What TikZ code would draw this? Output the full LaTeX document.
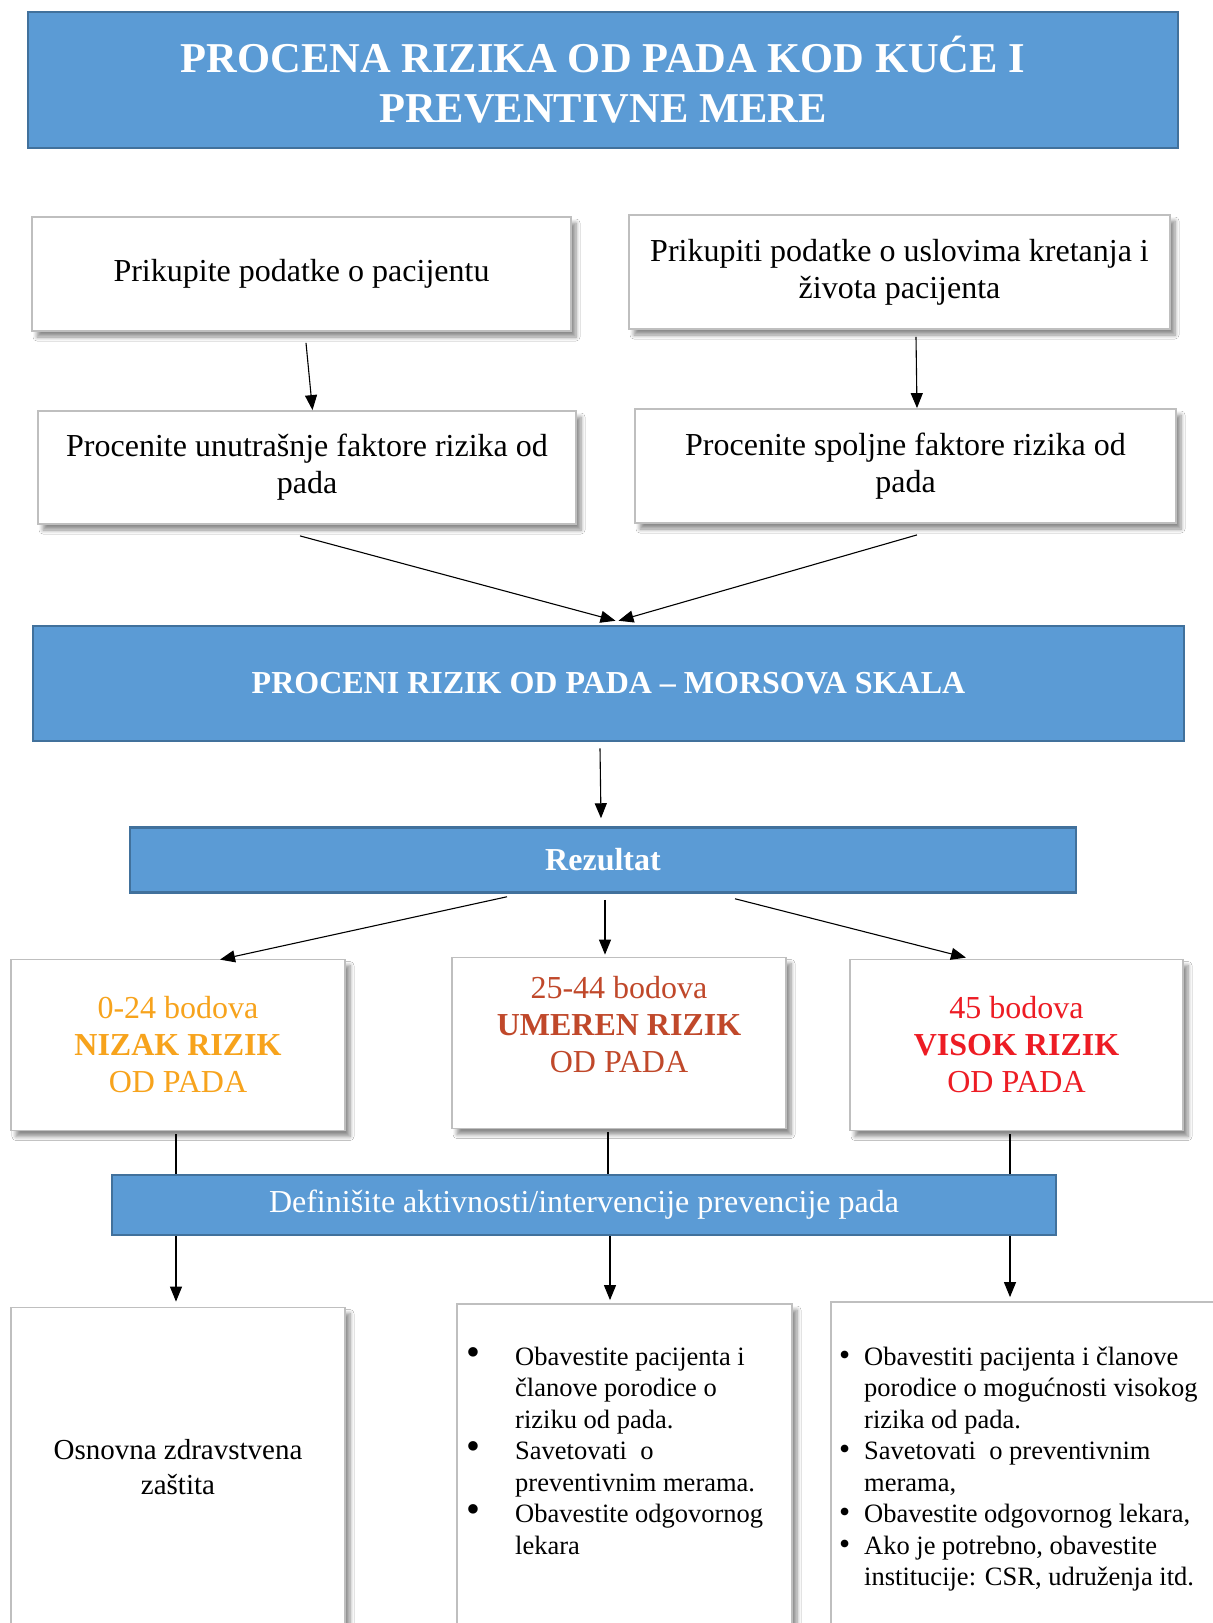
\documentclass[tikz,border=0pt]{standalone}
\usepackage{fontspec}
\setmainfont{Liberation Serif}
\usetikzlibrary{arrows.meta,shadows.blur,calc}
\definecolor{blueF}{HTML}{5B9BD5}
\definecolor{blueD}{HTML}{41719C}
\definecolor{boxB}{HTML}{BFBFBF}
\definecolor{orangeT}{HTML}{F7A31C}
\definecolor{brownT}{HTML}{C0482A}
\definecolor{redT}{HTML}{ED1C24}
\begin{document}
\begin{tikzpicture}[x=1pt,y=-1pt,
 bluebox/.style={draw=blueD, line width=2.5pt, fill=blueF, text=white, inner sep=0pt, align=center},
 whitebox/.style={draw=boxB, line width=1.8pt, fill=white, inner sep=0pt, align=center,
   blur shadow={shadow xshift=5pt, shadow yshift=-6pt, shadow blur radius=4pt, shadow blur steps=6, shadow opacity=45}},
 arr/.style={-{Triangle[length=15pt,width=12pt]}, line width=1.1pt},
 ln/.style={line width=1.1pt},
 fA/.style={font=\fontsize{32}{37}\selectfont},
 fL/.style={font=\fontsize{26.5}{31.5}\selectfont}
]
\clip (0,0) rectangle (1213,1623);
\fill[white] (0,0) rectangle (1213,1623);

\node[bluebox, minimum width=1150pt, minimum height=136pt, font=\bfseries\fontsize{42.5}{50}\selectfont] (title) at (603,80) {PROCENA RIZIKA OD PADA KOD KUĆE I\\PREVENTIVNE MERE};

\node[whitebox, fA, minimum width=539pt, minimum height=114pt] (b1) at (301.5,274) {Prikupite podatke o pacijentu};
\node[whitebox, fA, minimum width=541pt, minimum height=114pt] (b2) at (899.5,272) {Prikupiti podatke o uslovima kretanja i\\života pacijenta};
\node[whitebox, fA, minimum width=538pt, minimum height=113pt] (b3) at (307,467.5) {Procenite unutrašnje faktore rizika od\\pada};
\node[whitebox, fA, minimum width=541pt, minimum height=114pt] (b4) at (905.5,466) {Procenite spoljne faktore rizika od\\pada};

\node[bluebox, font=\bfseries\fontsize{32}{37}\selectfont, minimum width=1151pt, minimum height=115pt] (morse) at (608.5,683.5) {PROCENI RIZIK OD PADA – MORSOVA SKALA};
\node[bluebox, font=\bfseries\fontsize{32}{37}\selectfont, minimum width=946pt, minimum height=65pt] (rez) at (603,860) {Rezultat};

\node[whitebox, fA, text=orangeT, minimum width=334pt, minimum height=171pt] (nizak) at (178,1045) {0-24 bodova\\\textbf{NIZAK RIZIK}\\OD PADA};
\node[whitebox, fA, text=brownT, minimum width=334pt, minimum height=171pt] (umeren) at (619,1043) {25-44 bodova\\\textbf{UMEREN RIZIK}\\OD PADA\\ \mbox{}};
\node[whitebox, fA, text=redT, minimum width=333pt, minimum height=171pt] (visok) at (1016.5,1045) {45 bodova\\\textbf{VISOK RIZIK}\\OD PADA};

\node[bluebox, fA, minimum width=944pt, minimum height=60pt] (def) at (584,1205) {Definišite aktivnosti/intervencije prevencije pada};

\node[whitebox, font=\fontsize{29}{35}\selectfont, minimum width=334pt, minimum height=319pt] (osn) at (178,1467) {Osnovna zdravstvena\\zaštita};
\node[whitebox, minimum width=335pt, minimum height=336pt] (mid) at (624.5,1472) {};
\node[whitebox, minimum width=409pt, minimum height=338pt] (rgt) at (1035.5,1471) {};

\node[fL, anchor=north west, inner sep=0pt] (mlist) at (466,1343) {%
\begin{tabular}{@{}l@{}l@{}}
\makebox[49pt][l]{\scalebox{1.5}{\textbullet}} & Obavestite pacijenta i\\
 & članove porodice o\\
 & riziku od pada.\\
\scalebox{1.5}{\textbullet} & Savetovati\ \ o\\
 & preventivnim merama.\\
\scalebox{1.5}{\textbullet} & Obavestite odgovornog\\
 & lekara
\end{tabular}};

\node[fL, anchor=north west, inner sep=0pt] (rlist) at (839,1343) {%
\begin{tabular}{@{}l@{}l@{}}
\makebox[25pt][l]{\scalebox{1.2}{\textbullet}} & Obavestiti pacijenta i članove\\
 & porodice o mogućnosti visokog\\
 & rizika od pada.\\
\scalebox{1.2}{\textbullet} & Savetovati\ \ o preventivnim\\
 & merama,\\
\scalebox{1.2}{\textbullet} & Obavestite odgovornog lekara,\\
\scalebox{1.2}{\textbullet} & Ako je potrebno, obavestite\\
 & institucije: CSR, udruženja itd.
\end{tabular}};

% connectors
\draw[arr] ([xshift=4.5pt,yshift=-11pt]b1.south) -- ([xshift=5.5pt]b3.north);
\draw[arr] ([xshift=16.5pt,yshift=-7pt]b2.south) -- ([xshift=11.5pt]b4.north);
\draw[arr] ([xshift=-7pt,yshift=-11pt]b3.south) -- ([xshift=7pt,yshift=4pt]morse.north);
\draw[arr] ([xshift=11.5pt,yshift=-11pt]b4.south) -- ([xshift=10pt,yshift=4pt]morse.north);
\draw[arr] ([xshift=-8.5pt,yshift=-6pt]morse.south) -- ([xshift=-2pt,yshift=8pt]rez.north);
\draw[arr] ([xshift=-96pt,yshift=-3pt]rez.south) -- ([xshift=42pt,yshift=-1pt]nizak.north);
\draw[arr] ([xshift=2pt,yshift=-6pt]rez.south) -- ([xshift=-14pt,yshift=2pt]umeren.north);
\draw[arr] ([xshift=132pt,yshift=-5pt]rez.south) -- ([xshift=-50.5pt,yshift=1pt]visok.north);

\draw[ln] ([xshift=-2pt,yshift=-3pt]nizak.south) -- ([xshift=-2pt]nizak.south |- def.north);
\draw[ln] ([xshift=-11pt,yshift=-3pt]umeren.south) -- ([xshift=-11pt]umeren.south |- def.north);
\draw[ln] ([xshift=-6.5pt,yshift=-3pt]visok.south) -- ([xshift=-6.5pt]visok.south |- def.north);

\draw[arr] ([xshift=-2pt]nizak.south |- def.south) -- ([xshift=-2pt,yshift=5pt]osn.north);
\draw[arr] ([xshift=-14.5pt]mid.north |- def.south) -- ([xshift=-14.5pt,yshift=3pt]mid.north);
\draw[arr] ([xshift=-25.5pt]rgt.north |- def.south) -- ([xshift=-25.5pt,yshift=4pt]rgt.north);
\end{tikzpicture}
\end{document}
